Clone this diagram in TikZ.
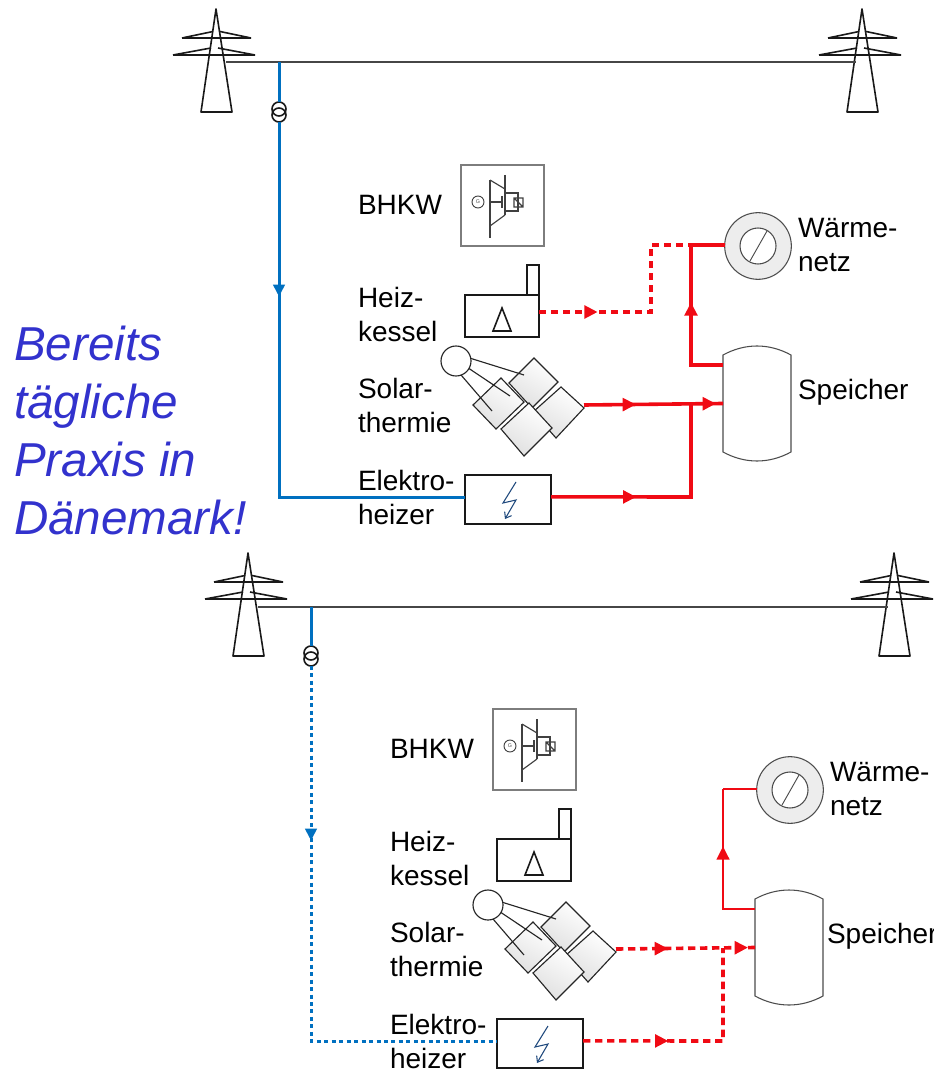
\documentclass[tikz,border=0pt]{standalone}
\usepackage{fontspec}
\setmainfont{Liberation Sans}
\usetikzlibrary{arrows.meta,decorations.markings}
\definecolor{linegray}{RGB}{70,70,70}
\definecolor{boxgray}{RGB}{125,125,125}
\definecolor{wirered}{RGB}{240,10,20}
\definecolor{wireblue}{RGB}{0,112,192}
\definecolor{notetext}{RGB}{50,50,205}
\definecolor{boltblue}{RGB}{31,73,125}
\tikzset{
  shape line/.style={draw=black!90,line width=1.2pt},
  thin line/.style={draw=black!85,line width=.85pt},
  symbol line/.style={draw=black!75,line width=.85pt},
  plantbox/.style={shape line,fill=white,inner sep=0pt,outer sep=0pt},
  label text/.style={anchor=west,align=left,inner sep=0pt,outer sep=0pt,font=\fontsize{21}{25.5}\selectfont},
  note text/.style={anchor=west,align=left,inner sep=0pt,outer sep=0pt,text=notetext,font=\fontsize{35.7}{43.5}\selectfont\itshape},
  panel/.style={thin line,top color=white,bottom color=black!12,shading angle=-30},
  one arrow/.style={postaction={decorate},decoration={markings,mark=at position #1 with {\arrow{Triangle[length=10pt,width=9.5pt]}}}},
  two arrows/.style 2 args={postaction={decorate},decoration={markings,
     mark=at position #1 with {\arrow{Triangle[length=10pt,width=9.5pt]}},
     mark=at position #2 with {\arrow{Triangle[length=10pt,width=9.5pt]}}}},
  blue arrow/.style={postaction={decorate},decoration={markings,mark=at position #1 with {\arrow{Triangle[length=9pt,width=8.5pt]}}}},
  heat/.style={draw=wirered,line width=2.7pt,line join=miter},
  heat thin/.style={draw=wirered,line width=2pt},
  heat dashed/.style={heat,dash pattern=on 5.5pt off 3.5pt},
  power/.style={draw=wireblue,line width=2.25pt},
  power dashed/.style={power,dash pattern=on 3pt off 2.6pt},
  grid line/.style={draw=linegray,line width=1.5pt},
}
\newcommand\towershape[1]{%
  \begin{scope}[shift={(#1,0)}]
    \draw[shape line,line join=round] (201,112) -- (216,9) -- (232,112) -- cycle;
    \draw[shape line] (182,38) -- (213,31.5) (220,31.5) -- (251,38) (182,38) -- (251,38);
    \draw[shape line] (173,55) -- (211,48) (218,48) -- (255,55) (173,55) -- (255,55);
  \end{scope}}
\newcommand\plantshapes[1]{%
  % grid
  \towershape{0}\towershape{646}
  \coordinate (gridL) at (226,62.5);
  \coordinate (gridR) at (856,62.5);
  \coordinate (tap) at (279,62.5);
  \draw[grid line] (gridL) -- (gridR);
  % transformer
  \node[circle,shape line,inner sep=0pt,outer sep=0pt,minimum size=10.5pt] (xfa) at (279,109) {};
  \node[circle,shape line,inner sep=0pt,outer sep=0pt,minimum size=10.5pt] (xfb) at (279,115) {};
  % BHKW
  \node[draw=boxgray,line width=1.1pt,fill=white,inner sep=0pt,outer sep=0pt,minimum width=62.25pt,minimum height=60.75pt] (bhkw) at (502.5,205.5) {};
  \node[label text] (bhkwlabel) at (358,205) {BHKW};
  \node[circle,draw=black!75,line width=.7pt,inner sep=0pt,minimum size=9pt,font=\fontsize{4}{4}\selectfont,text=black!70] (gen) at (478,202) {G};
  \draw[draw=black!75,line width=1.6pt] (490,180) -- (490,238) (505,175) -- (505,215);
  \draw[symbol line] (490,180) -- (505,189) (490,226) -- (505,215);
  \draw[symbol line] (490,202) -- (502,202) (502,196) -- (502,208);
  \draw[symbol line] (505,193) -- (518,193) -- (518,211) -- (505,211);
  \draw[symbol line] (514,198) rectangle (523,207) (514,198) -- (523,207);
  % Heizkessel
  \node[plantbox,minimum width=55.5pt,minimum height=31.5pt] (kessel) at (502,316) {};
  \node[plantbox,minimum width=9pt,minimum height=22.5pt] (chimney) at (533,280) {};
  \draw[shape line,line join=miter] (493,331) -- (502,308) -- (511,331) -- cycle;
  \node[label text] (kessellabel) at (358,314) {Heiz-\\kessel};
  % Solar
  \shadedraw[panel] (534,358) -- (558,382) -- (532,408) -- (509,383) -- cycle;
  \shadedraw[panel] (561,387) -- (584,408) -- (556,438) -- (533,412) -- cycle;
  \shadedraw[panel] (529,403) -- (552,428) -- (524,456) -- (501,429) -- cycle;
  \shadedraw[panel] (501,378) -- (524,402) -- (496,429) -- (473,405) -- cycle;
  \node[circle,thin line,fill=white,inner sep=0pt,outer sep=0pt,minimum size=22.5pt] (sun) at (456,361) {};
  \coordinate (sola) at (524,375);
  \coordinate (solb) at (510,396);
  \coordinate (solc) at (492,411);
  \coordinate (solarout) at (584,405);
  \draw[thin line] (sun.10) -- (sola) (sun.-30) -- (solb) (sun.-70) -- (solc);
  \node[label text] (solarlabel) at (358,405.5) {Solar-\\thermie};
  % Elektroheizer
  \node[plantbox,minimum width=64.5pt,minimum height=37pt] (heizer) at (508,499.5) {};
  \coordinate (bolta) at (516,482);
  \coordinate (boltb) at (503,503);
  \coordinate (boltc) at (516,500);
  \coordinate (boltd) at (505,519);
  \draw[draw=boltblue,line width=.8pt,-{Straight Barb[length=4pt,width=6pt]}] (bolta) -- (boltb) -- (boltc) -- (boltd);
  \node[label text] (heizerlabel) at (358,497.5) {Elektro-\\heizer};
  % Waermenetz
  \node[circle,draw=black!70,line width=.8pt,fill=black!7,inner sep=0pt,outer sep=0pt,minimum size=50pt] (netz) at (758,246) {};
  \node[circle,draw=black!70,line width=.8pt,fill=white,inner sep=0pt,outer sep=0pt,minimum size=27pt] (netzinner) at (758,246) {};
  \draw[draw=black!70,line width=.7pt] (750,261) -- (767,231);
  \node[label text] (netzlabel) at (798,245) {Wärme-\\netz};
  % Speicher
  \node[inner sep=0pt,outer sep=0pt,minimum width=51pt,minimum height=86pt] (speicher) at (757,403.5) {};
  \draw[draw=black!70,line width=.8pt,fill=white] (723,355) .. controls (745,343) and (769,343) .. (791,355) -- (791,452) .. controls (769,464) and (745,464) .. (723,452) -- cycle;
  \node[label text] (speicherlabel) at (#1,392.5) {Speicher};
  % connector points
  \coordinate (storeout) at (723,365);
  \coordinate (riser) at (691,365);
  \coordinate (netzjoin) at (691,245);
  \coordinate (solarjoin) at (691,404);
  \coordinate (heizjoin) at (691,497);
  \coordinate (bluecorner) at (279,497);
  \coordinate (kesselA) at (651,312);
  \coordinate (kesselB) at (651,245);
}
\begin{document}
\begin{tikzpicture}[x=.75pt,y=-.75pt]
  \path[use as bounding box] (0,0) rectangle (933,1069);
  \clip (0,0) rectangle (933,1069);
  \node[note text] (note) at (14,430) {Bereits\\tägliche\\Praxis in\\Dänemark!};
  \begin{scope}[name prefix=t-]
    \plantshapes{798}
    \draw[power] (tap) -- (xfa);
    \draw[power,blue arrow=131pt] (xfb) -- (bluecorner) -- (heizer.west |- bluecorner);
    \draw[heat dashed,one arrow=44pt] ([yshift=3pt]kessel.east) -- (kesselA) -- (kesselB) -- (netzjoin);
    \draw[heat] (netzjoin) -- (netz.west |- netzjoin);
    \draw[heat,one arrow=71pt] (storeout) -- (riser) -- (netzjoin);
    \draw[heat,two arrows={39pt}{99pt}] (solarout) -- (speicher.west);
    \draw[heat,one arrow=64pt] ([yshift=2pt]heizer.east) -- (heizjoin) -- (solarjoin);
  \end{scope}
  \begin{scope}[shift={(32,544)},name prefix=b-]
    \plantshapes{795}
    \draw[power] (tap) -- (xfa);
    \draw[power dashed,blue arrow=131pt] (xfb) -- (bluecorner) -- (heizer.west |- bluecorner);
    \draw[heat thin] (netz.west |- netzjoin) -- (netzjoin);
    \draw[heat thin,one arrow=71pt] (storeout) -- (riser) -- (netzjoin);
    \draw[heat dashed,two arrows={39pt}{99pt}] (solarout) -- (speicher.west);
    \draw[heat dashed,one arrow=64pt] ([yshift=2pt]heizer.east) -- (heizjoin) -- (solarjoin);
  \end{scope}
\end{tikzpicture}
\end{document}
